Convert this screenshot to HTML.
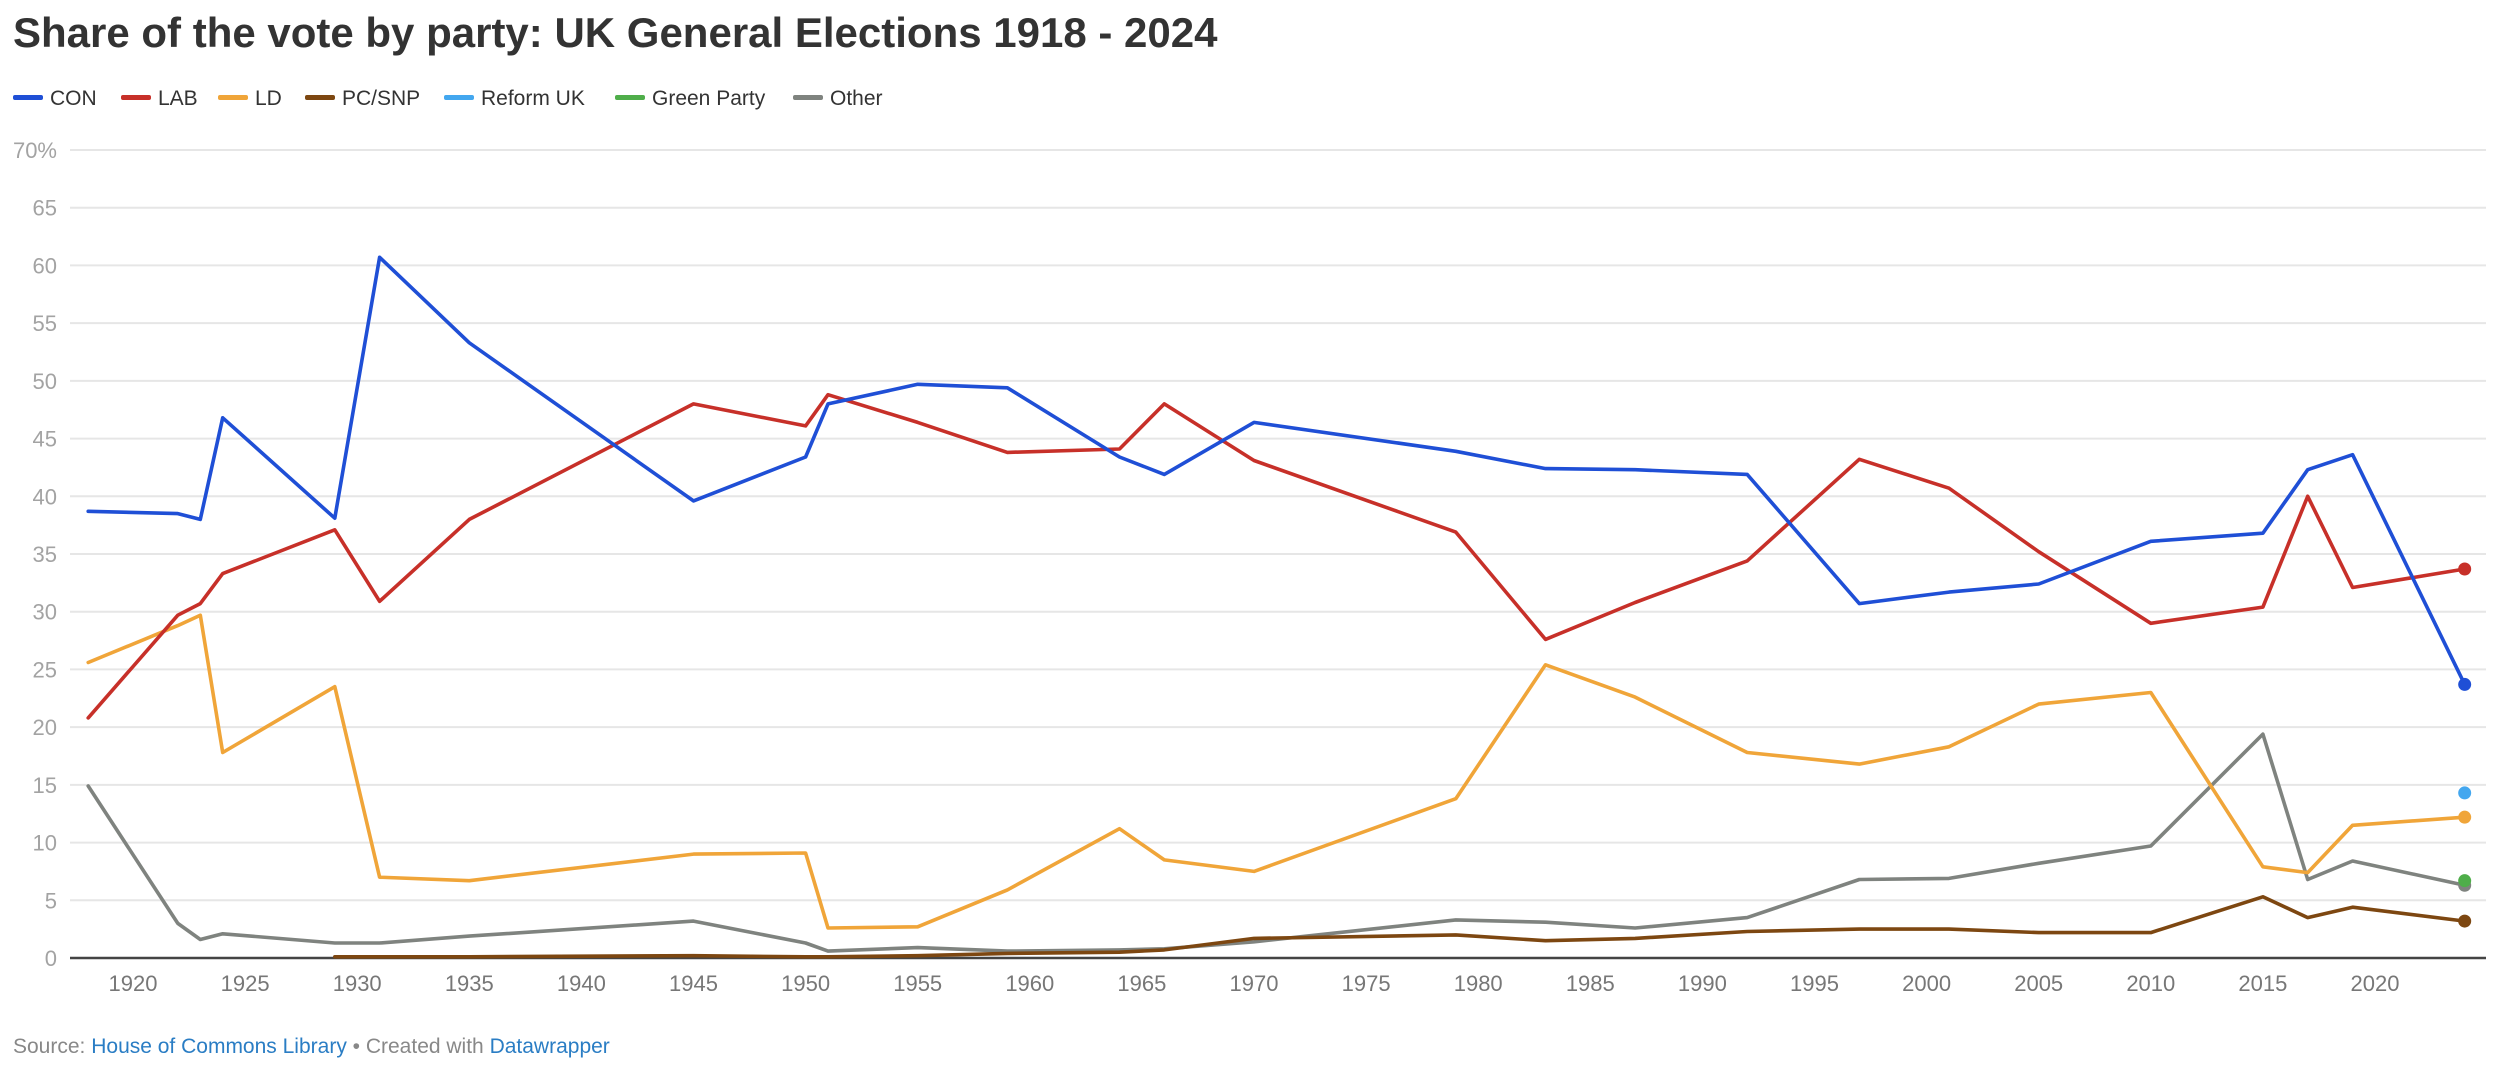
<!DOCTYPE html>
<html><head><meta charset="utf-8">
<style>
html,body{margin:0;padding:0;background:#fff;}
body{width:2500px;height:1065px;overflow:hidden;font-family:"Liberation Sans",Arial,sans-serif;}
svg{display:block}
</style></head>
<body>
<svg id="chart" width="2500" height="1065" viewBox="0 0 2500 1065" xmlns="http://www.w3.org/2000/svg">
<text x="13" y="47" font-size="42" font-weight="bold" fill="#333" font-family="Liberation Sans, Arial, sans-serif">Share of the vote by party: UK General Elections 1918 - 2024</text>
<g id="legend" font-size="21" fill="#333" font-family="Liberation Sans, Arial, sans-serif"></g>
<g id="grid"></g>
<g id="yaxis"></g>
<g id="xaxis"></g>
<g id="series"></g>
<text x="13" y="1053" font-size="21" fill="#888" font-family="Liberation Sans, Arial, sans-serif">Source: <tspan fill="#2a7dc4">House of Commons Library</tspan> • Created with <tspan fill="#2a7dc4">Datawrapper</tspan></text>
</svg>
<script>
const years = [1918,1922,1923,1924,1929,1931,1935,1945,1950,1951,1955,1959,1964,1966,1970,1979,1983,1987,1992,1997,2001,2005,2010,2015,2017,2019,2024];
const conValues = [38.7,38.5,38.0,46.8,38.1,60.7,53.3,39.6,43.4,48.0,49.7,49.4,43.4,41.9,46.4,43.9,42.4,42.3,41.9,30.7,31.7,32.4,36.1,36.8,42.3,43.6,23.7];
const labValues = [20.8,29.7,30.7,33.3,37.1,30.9,38.0,48.0,46.1,48.8,46.4,43.8,44.1,48.0,43.1,36.9,27.6,30.8,34.4,43.2,40.7,35.2,29.0,30.4,40.0,32.1,33.7];
const ldValues = [25.6,28.8,29.7,17.8,23.5,7.0,6.7,9.0,9.1,2.6,2.7,5.9,11.2,8.5,7.5,13.8,25.4,22.6,17.8,16.8,18.3,22.0,23.0,7.9,7.4,11.5,12.2];
const snpValues = [null,null,null,null,0.1,0.1,0.1,0.2,0.1,0.1,0.2,0.4,0.5,0.7,1.7,2.0,1.5,1.7,2.3,2.5,2.5,2.2,2.2,5.3,3.5,4.4,3.2];
const otherValues = [14.9,3.0,1.6,2.1,1.3,1.3,1.9,3.2,1.3,0.6,0.9,0.6,0.7,0.8,1.4,3.3,3.1,2.6,3.5,6.8,6.9,8.2,9.7,19.4,6.8,8.4,6.3];
const reformValues = [null,null,null,null,null,null,null,null,null,null,null,null,null,null,null,null,null,null,null,null,null,null,null,null,null,null,14.3];
const greenValues = [null,null,null,null,null,null,null,null,null,null,null,null,null,null,null,null,null,null,null,null,null,null,null,null,null,null,6.7];
const yTicks = [0,5,10,15,20,25,30,35,40,45,50,55,60,65,70];
const xTicks = [1920,1925,1930,1935,1940,1945,1950,1955,1960,1965,1970,1975,1980,1985,1990,1995,2000,2005,2010,2015,2020];
const legendNames = ["CON","LAB","LD","PC/SNP","Reform UK","Green Party","Other"];

const NS="http://www.w3.org/2000/svg";
const X0=70,X1=2486,Y0=958,Y70=150;
function x(yr){return 133+(yr-1920)*22.42;}
function y(v){return Y0-(v/70)*(Y0-Y70);}
function mk(tag,attrs,parent){const e=document.createElementNS(NS,tag);for(const k in attrs)e.setAttribute(k,attrs[k]);parent.appendChild(e);return e;}

const colors={"CON":"#1f4fd6","LAB":"#c73029","LD":"#f0a539","PC/SNP":"#7d4711","Reform UK":"#43a7ef","Green Party":"#4fae4a","Other":"#7f837f"};

const legendX=[13,121,218,305,444,615,793];
const lg=document.getElementById('legend');
legendNames.forEach((n,i)=>{
  const g=mk('g',{},lg);
  
  
  mk('rect',{x:legendX[i],y:95,width:30,height:5,rx:2,fill:colors[n]},g);
  const t=mk('text',{x:legendX[i]+37,y:105},g);t.textContent=n;
});

const grid=document.getElementById('grid'),ya=document.getElementById('yaxis');
yTicks.forEach(v=>{
  if(v>0){const l=mk('line',{x1:X0,x2:X1,y1:y(v),y2:y(v),stroke:"#e6e6e6","stroke-width":2},grid);
  }
  const t=mk('text',{x:57,y:y(v)+8,"text-anchor":"end","font-size":22,fill:"#a3a3a3","font-family":"Liberation Sans, Arial, sans-serif"},ya);
  t.textContent=v===70?"70%":String(v);
  
});
const xa=document.getElementById('xaxis');
xTicks.forEach(yr=>{
  const t=mk('text',{x:x(yr),y:991,"text-anchor":"middle","font-size":22,fill:"#777","font-family":"Liberation Sans, Arial, sans-serif"},xa);
  t.textContent=yr;
  
});

const ser=document.getElementById('series');
function drawSeries(name,vals){
  const g=mk('g',{},ser);
  
  
  let d="",started=false,last=null;
  vals.forEach((v,i)=>{if(v===null||v===undefined)return;d+=(started?"L":"M")+x(years[i]).toFixed(1)+","+y(v).toFixed(1);started=true;last=i;});
  if(d.indexOf("L")>0){const p=mk('path',{d:d,fill:"none",stroke:colors[name],"stroke-width":3.6,"stroke-linejoin":"round","stroke-linecap":"round"},g);
    }
  if(last!==null){const c=mk('circle',{cx:x(years[last]),cy:y(vals[last]),r:6.5,fill:colors[name]},g);
    }
}
drawSeries("Other",otherValues);
drawSeries("Green Party",greenValues);
drawSeries("PC/SNP",snpValues);
drawSeries("Reform UK",reformValues);
drawSeries("LD",ldValues);
drawSeries("LAB",labValues);
drawSeries("CON",conValues);

const base=mk('line',{x1:X0,x2:X1,y1:Y0,y2:Y0,stroke:"#444","stroke-width":2.5},document.getElementById('grid'));


</script>
</body></html>
